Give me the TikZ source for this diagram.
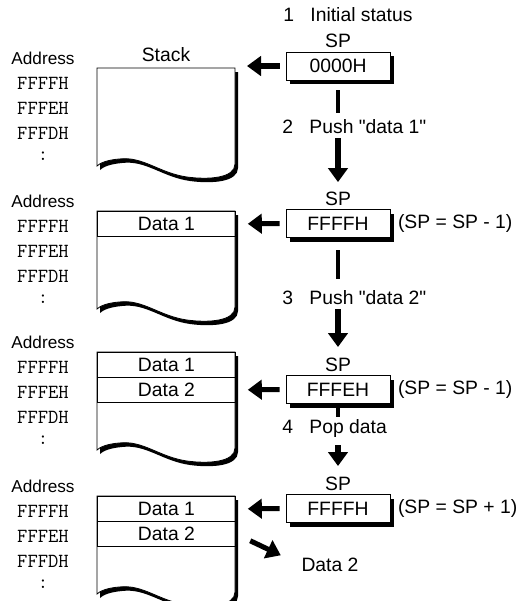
\documentclass[tikz,border=0pt]{standalone}
\usepackage{fontspec}
\setmainfont{Liberation Sans}
\usepackage{tikz}
\usetikzlibrary{arrows.meta,positioning,shadows}
\newcommand{\mainsize}{\fontsize{14.5}{17}\selectfont}
\newcommand{\addrsize}{\fontsize{12.9}{15}\selectfont}
\newcommand{\hexsize}{\fontsize{15}{17}\selectfont\ttfamily}
\tikzstyle{thinline}=[line width=0.6pt]
\tikzstyle{lbl}=[inner sep=0pt, font=\mainsize]
\tikzstyle{stackrow}=[draw, thinline, anchor=north west, minimum width=103.5pt, minimum height=18.75pt, inner sep=0pt, font=\mainsize]
\tikzstyle{spbox}=[draw, thinline, fill=white, minimum width=78pt, minimum height=21pt, inner sep=0pt, font=\mainsize, drop shadow={shadow xshift=3pt, shadow yshift=-3pt, fill=black, opacity=1}]
\tikzstyle{fatarrow}=[line width=3.8pt, -{Triangle[length=10.5pt,width=14.5pt]}]
\tikzstyle{fatbar}=[line width=3.5pt]
\newcommand{\stackshape}{(0,0) -- (138,0) -- (138,96) .. controls (138,110) and (112,112) .. (90,109) .. controls (62,105) and (46,88) .. (22,91) .. controls (10,92) and (3,95) .. (0,98) -- cycle}
\newcommand{\memstack}[2]{
	\begin{scope}[shift={(97,#1)}]
		\fill[shift={(3,4)}] \stackshape;
		\draw[thinline, fill=white] \stackshape;
		\node[lbl, font=\addrsize] (#2addr) at (-54,-10) {Address};
		\node[lbl, font=\hexsize] (#2ffff) at (-54,15.5) {FFFFH};
		\node[lbl, font=\hexsize] (#2fffe) at (-54,40) {FFFEH};
		\node[lbl, font=\hexsize] (#2fffd) at (-54,65) {FFFDH};
		\node[lbl, font=\hexsize] (#2dots) at (-54,88.5) {:};
	\end{scope}
}
\begin{document}
\begin{tikzpicture}[x=0.75pt, y=-0.75pt]
	\useasboundingbox (0,0) rectangle (531,601);
	% stacks
	\memstack{68}{s1}
	\memstack{211}{s2}
	\memstack{352}{s3}
	\memstack{496}{s4}
	\node[lbl] (stack) at (166,55) {Stack};
	\coordinate (s1top) at (235,66);
	\node[stackrow] (s2r1) at (97,211) {Data 1};
	\node[stackrow] (s3r1) at (97,352) {Data 1};
	\node[stackrow] (s3r2) at (97,377) {Data 2};
	\node[stackrow] (s4r1) at (97,496) {Data 1};
	\node[stackrow] (s4r2) at (97,521) {Data 2};
	% stack pointer
	\node[spbox] (sp1) at (338,66) {0000H};
	\node[spbox] (sp2) at (338,223.5) {FFFFH};
	\node[spbox] (sp3) at (338,389.5) {FFFEH};
	\node[spbox] (sp4) at (338,508.5) {FFFFH};
	\foreach \i in {1,...,4}
		\node[lbl, above=2.5pt of sp\i] (splbl\i) {SP};
	\node[lbl, right=5.5pt of sp2] (dec2) {(SP = SP - 1)};
	\node[lbl, right=5.5pt of sp3] (dec3) {(SP = SP - 1)};
	\node[lbl, right=5.5pt of sp4] (inc4) {(SP = SP + 1)};
	% steps
	\node[lbl, anchor=west] (st1) at (283,15) {1\hspace{0.85em}Initial status};
	\node[lbl, anchor=west] (st2) at (282,127) {2\hspace{0.85em}Push \textquotedbl data 1\textquotedbl};
	\node[lbl, anchor=west] (st3) at (282,298) {3\hspace{0.85em}Push \textquotedbl data 2\textquotedbl};
	\node[lbl, anchor=west] (st4) at (282,428) {4\hspace{0.85em}Pop data};
	\node[lbl] (popped) at (330,565) {Data 2};
	% SP points into the stack
	\draw[fatarrow, shorten <=4.5pt, shorten >=9pt] (sp1.west) -- (s1top);
	\draw[fatarrow, shorten <=4.5pt, shorten >=9pt] (sp2.west) -- (s2r1.east);
	\draw[fatarrow, shorten <=4.5pt, shorten >=9pt] (sp3.west) -- (s3r2.east);
	\draw[fatarrow, shorten <=4.5pt, shorten >=9pt] (sp4.west) -- (s4r1.east);
	\draw[fatarrow, shorten <=12pt, shorten >=17pt] (s4r2.east) -- (popped.west);
	% flow between steps
	\draw[fatbar, shorten <=7.5pt, shorten >=5.1pt] (sp1.south) -- (sp1.south |- st2.north);
	\draw[fatarrow, shorten <=3pt, shorten >=7.1pt] (splbl2.north |- st2.south) -- (splbl2.north);
	\draw[fatbar, shorten <=9.4pt, shorten >=8.9pt] (sp2.south) -- (sp2.south |- st3.north);
	\draw[fatarrow, shorten <=3pt, shorten >=7.9pt] (splbl3.north |- st3.south) -- (splbl3.north);
	\draw[fatbar, shorten <=1.9pt, shorten >=1.5pt] (sp3.south) -- (sp3.south |- st4.north);
	\draw[fatarrow, shorten <=6pt, shorten >=7.9pt] (splbl4.north |- st4.south) -- (splbl4.north);
\end{tikzpicture}
\end{document}
